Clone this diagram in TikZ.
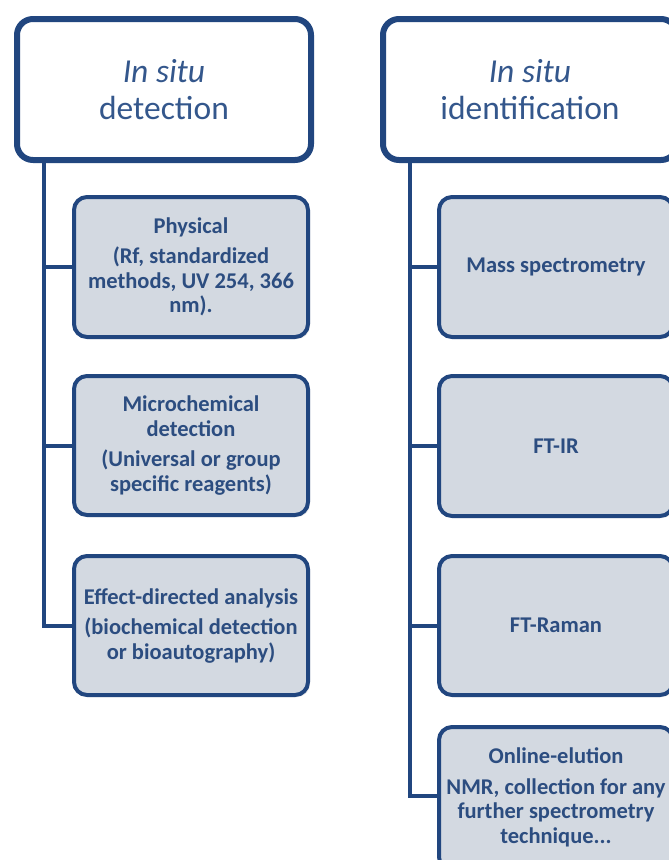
\documentclass[tikz,border=0pt]{standalone}
\usepackage{fontspec}
\setmainfont{Carlito}
\usetikzlibrary{shadows}
\definecolor{navy}{HTML}{21467F}
\definecolor{txtblue}{HTML}{2C4D80}
\definecolor{hdrblue}{HTML}{34578C}
\definecolor{boxgray}{HTML}{D3D9E1}
\tikzset{
  hdr/.style={draw=navy, line width=6pt, rounded corners=16pt, fill=white,
    anchor=north west, align=center, text=hdrblue, inner sep=0pt,
    font=\fontsize{33.5}{37}\selectfont,
    drop shadow={shadow xshift=2pt, shadow yshift=-2pt, opacity=0.25, fill=gray}},
  child/.style={draw=navy, line width=4pt, rounded corners=13pt, fill=boxgray,
    anchor=north west, align=center, text=txtblue, inner sep=0pt,
    font=\fontsize{22.5}{24.5}\selectfont\bfseries,
    drop shadow={shadow xshift=2pt, shadow yshift=-2pt, opacity=0.2, fill=gray}},
  conn/.style={draw=navy, line width=4pt}
}
\begin{document}
\begin{tikzpicture}[x=1pt,y=-1pt]
\useasboundingbox (0,0) rectangle (669,860);
\clip (0,0) rectangle (669,860);
% headers
\node[hdr, minimum width=294pt, minimum height=141pt] (h1) at (14,16) {\itshape In situ\\ detection};
\node[hdr, minimum width=294pt, minimum height=141pt] (h2) at (380,16) {\itshape In situ\\ identification};
% left children
\node[child, minimum width=234pt, minimum height=140pt] (a1) at (72,195)
  {Physical\\[6pt] (Rf, standardized\\ methods, UV 254, 366\\ nm).};
\node[child, minimum width=234pt, minimum height=139pt] (a2) at (72,374)
  {Microchemical\\ detection\\[6pt] (Universal or group\\ specific reagents)};
\node[child, minimum width=234pt, minimum height=139pt] (a3) at (72,554)
  {Effect-directed analysis\\[6pt] (biochemical detection\\ or bioautography)};
% right children
\node[child, minimum width=234pt, minimum height=140pt] (b1) at (437,195) {Mass spectrometry};
\node[child, minimum width=234pt, minimum height=140pt] (b2) at (437,374) {FT-IR};
\node[child, minimum width=234pt, minimum height=139pt] (b3) at (437,554) {FT-Raman};
\node[child] (b4) at (437,725)
  {\parbox[c][143pt][t]{234pt}{\centering\vspace{21pt}Online-elution\\[6pt] NMR, collection for any\\ further spectrometry\\ technique...}};
% connectors
\coordinate (l0) at (44,158);
\coordinate (r0) at (410,158);
\draw[conn] (l0) |- (a3.west);
\draw[conn] (l0 |- a1.west) -- (a1.west);
\draw[conn] (l0 |- a2.west) -- (a2.west);
\draw[conn] (r0) |- ([yshift=3pt]b4.west);
\draw[conn] (r0 |- b1.west) -- (b1.west);
\draw[conn] (r0 |- b2.west) -- (b2.west);
\draw[conn] (r0 |- b3.west) -- (b3.west);
\end{tikzpicture}
\end{document}
